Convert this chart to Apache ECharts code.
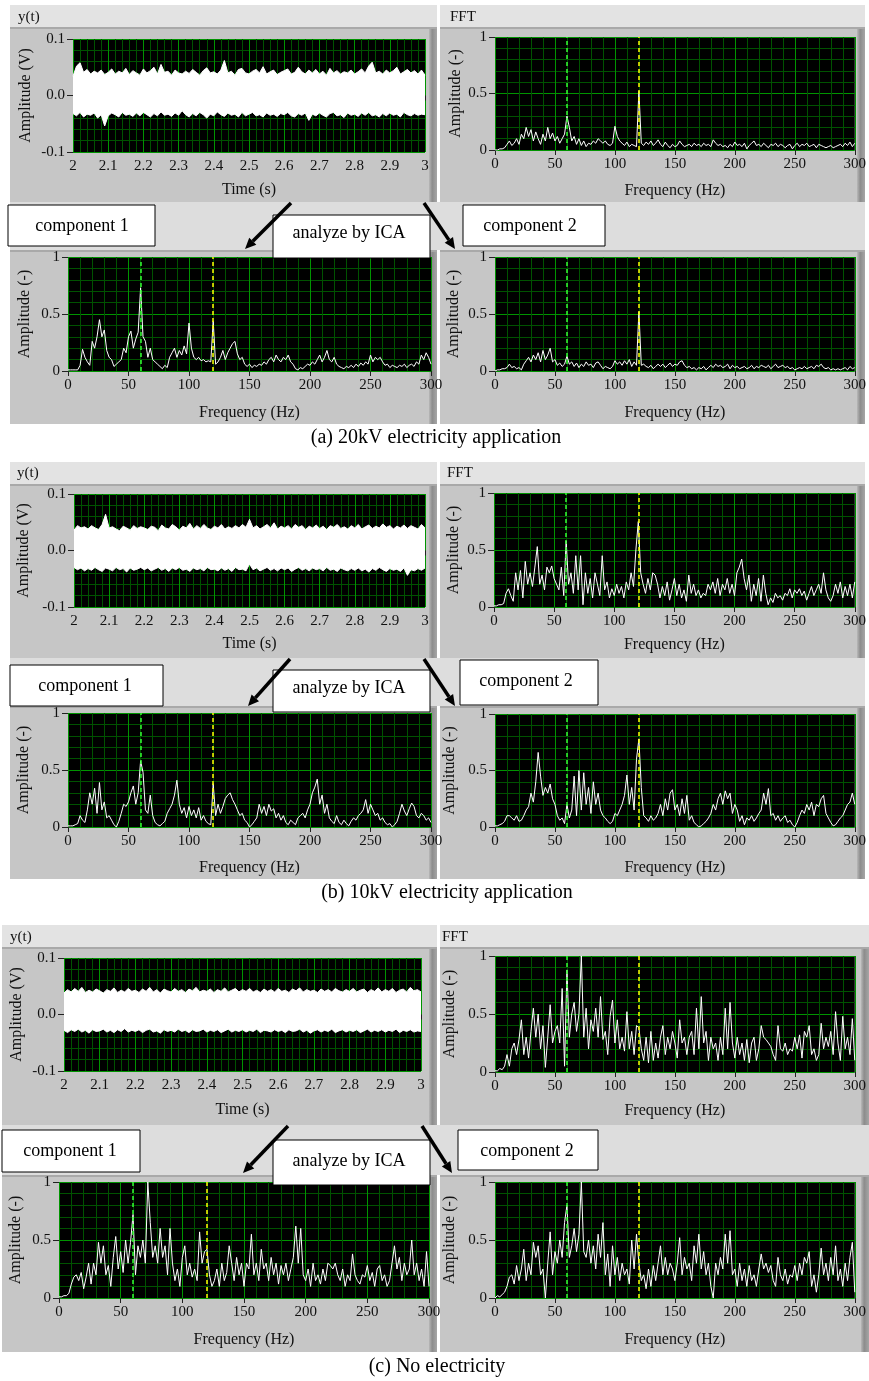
<!DOCTYPE html>
<html><head><meta charset="utf-8"><title>ICA FFT</title>
<script src="https://cdn.jsdelivr.net/npm/echarts@6.0.0/dist/echarts.min.js"></script>
<style>html,body{margin:0;padding:0;background:#fff;}#chart{width:869px;height:1381px;}</style>
</head><body><div id="chart"></div>
<script>
// ================= DATA =================
const FREQ_STEP_HZ = 2;           // spectra sampled every 2 Hz, 0..300 Hz
const TIME_START = 2, TIME_END = 3;
const CURSOR_GREEN_HZ = 60, CURSOR_YELLOW_HZ = 120;
const TITLE_TIME = 'y(t)', TITLE_FFT = 'FFT';
const CAPTIONS = ['(a) 20kV electricity application', '(b) 10kV electricity application', '(c) No electricity'];
const BOX_LABELS = ['component 1', 'analyze by ICA', 'component 2'];

// time signal envelopes (upper / lower edge of the white noise band), 2.00..3.00 s
const UP_A = [0.034,0.052,0.058,0.041,0.046,0.038,0.043,0.040,0.045,0.037,
0.041,0.047,0.038,0.043,0.040,0.048,0.037,0.044,0.040,0.036,
0.047,0.040,0.044,0.050,0.038,0.055,0.041,0.043,0.036,0.045,
0.040,0.038,0.043,0.039,0.046,0.041,0.036,0.044,0.049,0.040,
0.042,0.038,0.045,0.062,0.040,0.043,0.036,0.046,0.048,0.040,
0.038,0.043,0.046,0.040,0.051,0.038,0.042,0.045,0.037,0.041,
0.044,0.047,0.038,0.041,0.050,0.042,0.038,0.045,0.040,0.046,
0.038,0.043,0.036,0.048,0.040,0.044,0.038,0.042,0.040,0.045,
0.038,0.042,0.047,0.040,0.052,0.059,0.040,0.043,0.038,0.045,
0.040,0.044,0.050,0.038,0.042,0.046,0.040,0.044,0.038,0.045,
0.036];
const LO_A = [-0.032,-0.036,-0.030,-0.038,-0.033,-0.035,-0.031,-0.040,-0.034,-0.054,
-0.036,-0.031,-0.034,-0.038,-0.030,-0.035,-0.033,-0.037,-0.031,-0.036,
-0.030,-0.034,-0.038,-0.032,-0.036,-0.029,-0.035,-0.033,-0.037,-0.031,
-0.035,-0.027,-0.034,-0.038,-0.032,-0.036,-0.030,-0.034,-0.040,-0.033,
-0.036,-0.029,-0.034,-0.037,-0.031,-0.035,-0.033,-0.038,-0.030,-0.036,
-0.033,-0.030,-0.036,-0.034,-0.038,-0.031,-0.035,-0.033,-0.037,-0.032,
-0.034,-0.030,-0.036,-0.038,-0.032,-0.035,-0.031,-0.044,-0.033,-0.036,
-0.031,-0.035,-0.038,-0.032,-0.030,-0.036,-0.034,-0.039,-0.031,-0.035,
-0.033,-0.037,-0.031,-0.035,-0.030,-0.036,-0.034,-0.038,-0.032,-0.036,
-0.031,-0.035,-0.033,-0.038,-0.030,-0.034,-0.036,-0.032,-0.035,-0.033,
-0.034];
const UP_B = [0.036,0.044,0.040,0.042,0.038,0.044,0.040,0.037,0.046,0.064,
0.040,0.042,0.038,0.035,0.043,0.040,0.036,0.044,0.039,0.042,
0.040,0.037,0.043,0.041,0.035,0.045,0.040,0.038,0.046,0.042,
0.036,0.043,0.040,0.048,0.038,0.044,0.039,0.046,0.040,0.037,
0.043,0.040,0.046,0.038,0.042,0.039,0.044,0.040,0.046,0.041,
0.055,0.040,0.044,0.038,0.042,0.046,0.040,0.049,0.038,0.043,
0.040,0.044,0.038,0.046,0.041,0.044,0.037,0.043,0.040,0.045,
0.039,0.043,0.037,0.044,0.041,0.046,0.039,0.042,0.038,0.044,
0.040,0.046,0.038,0.042,0.045,0.039,0.043,0.040,0.047,0.041,
0.044,0.038,0.043,0.040,0.045,0.039,0.044,0.041,0.038,0.046,
0.040];
const LO_B = [-0.030,-0.034,-0.031,-0.036,-0.032,-0.035,-0.030,-0.034,-0.037,-0.031,
-0.033,-0.036,-0.030,-0.034,-0.032,-0.038,-0.031,-0.035,-0.033,-0.030,
-0.034,-0.031,-0.036,-0.033,-0.030,-0.035,-0.032,-0.037,-0.031,-0.034,
-0.030,-0.035,-0.033,-0.037,-0.031,-0.034,-0.032,-0.036,-0.030,-0.034,
-0.033,-0.036,-0.031,-0.035,-0.032,-0.037,-0.030,-0.034,-0.033,-0.036,
-0.024,-0.034,-0.031,-0.036,-0.033,-0.030,-0.035,-0.032,-0.036,-0.031,
-0.034,-0.031,-0.037,-0.033,-0.030,-0.035,-0.032,-0.036,-0.031,-0.034,
-0.032,-0.036,-0.030,-0.035,-0.033,-0.037,-0.031,-0.034,-0.036,-0.032,
-0.035,-0.031,-0.036,-0.033,-0.038,-0.032,-0.035,-0.030,-0.034,-0.037,
-0.032,-0.035,-0.033,-0.037,-0.031,-0.044,-0.034,-0.036,-0.032,-0.035,
-0.031];
const UP_C = [0.038,0.044,0.040,0.046,0.041,0.048,0.039,0.043,0.040,0.045,
0.042,0.038,0.044,0.041,0.047,0.039,0.043,0.040,0.046,0.041,
0.043,0.039,0.045,0.041,0.048,0.040,0.044,0.038,0.045,0.042,
0.040,0.046,0.041,0.044,0.039,0.045,0.042,0.048,0.040,0.043,
0.041,0.045,0.039,0.044,0.041,0.047,0.040,0.043,0.046,0.040,
0.044,0.041,0.046,0.040,0.043,0.039,0.045,0.041,0.044,0.040,
0.046,0.041,0.043,0.039,0.045,0.042,0.047,0.040,0.044,0.041,
0.043,0.039,0.045,0.041,0.044,0.040,0.046,0.042,0.040,0.044,
0.041,0.046,0.040,0.043,0.045,0.039,0.044,0.041,0.047,0.040,
0.044,0.041,0.046,0.039,0.043,0.045,0.040,0.048,0.042,0.044,
0.040];
const LO_C = [-0.028,-0.032,-0.027,-0.030,-0.026,-0.031,-0.028,-0.033,-0.027,-0.030,
-0.029,-0.026,-0.031,-0.028,-0.032,-0.027,-0.030,-0.025,-0.031,-0.028,
-0.030,-0.027,-0.032,-0.028,-0.026,-0.031,-0.029,-0.033,-0.027,-0.030,
-0.028,-0.031,-0.026,-0.030,-0.028,-0.032,-0.027,-0.030,-0.029,-0.026,
-0.031,-0.028,-0.030,-0.027,-0.032,-0.029,-0.026,-0.031,-0.028,-0.030,
-0.027,-0.031,-0.028,-0.030,-0.026,-0.032,-0.028,-0.029,-0.031,-0.027,
-0.030,-0.028,-0.032,-0.027,-0.030,-0.029,-0.026,-0.031,-0.028,-0.033,
-0.029,-0.027,-0.031,-0.028,-0.030,-0.026,-0.032,-0.029,-0.027,-0.031,
-0.028,-0.030,-0.027,-0.032,-0.029,-0.026,-0.031,-0.028,-0.030,-0.027,
-0.031,-0.028,-0.030,-0.026,-0.032,-0.028,-0.030,-0.027,-0.031,-0.029,
-0.030];

// FFT amplitude spectra, 0..300 Hz every 2 Hz (151 values each)
const FFT_A = [0.00,0.00,0.01,0.01,0.02,0.05,0.08,0.04,0.06,0.10,
0.05,0.14,0.10,0.20,0.12,0.18,0.08,0.16,0.10,0.05,
0.14,0.08,0.20,0.10,0.15,0.08,0.12,0.06,0.10,0.14,
0.30,0.20,0.08,0.12,0.05,0.10,0.04,0.08,0.03,0.06,
0.05,0.08,0.06,0.10,0.08,0.06,0.08,0.05,0.04,0.06,
0.21,0.12,0.08,0.06,0.04,0.07,0.03,0.05,0.04,0.03,
0.52,0.06,0.04,0.07,0.05,0.08,0.04,0.06,0.09,0.05,
0.03,0.07,0.04,0.02,0.05,0.03,0.04,0.08,0.05,0.03,
0.04,0.05,0.03,0.06,0.04,0.05,0.03,0.06,0.04,0.05,
0.03,0.09,0.06,0.04,0.05,0.03,0.04,0.02,0.05,0.03,
0.07,0.04,0.05,0.03,0.06,0.01,0.04,0.06,0.08,0.04,
0.05,0.03,0.06,0.04,0.02,0.05,0.04,0.06,0.03,0.05,
0.04,0.02,0.04,0.05,0.01,0.04,0.06,0.03,0.05,0.04,
0.06,0.03,0.04,0.05,0.02,0.05,0.04,0.03,0.02,0.03,
0.04,0.02,0.03,0.04,0.05,0.03,0.06,0.04,0.07,0.03,
0.06];
const FFT_A1 = [0.01,0.01,0.01,0.01,0.01,0.05,0.19,0.12,0.08,0.05,
0.26,0.20,0.30,0.45,0.30,0.36,0.18,0.12,0.10,0.04,
0.06,0.08,0.10,0.20,0.16,0.30,0.35,0.20,0.28,0.34,
0.73,0.30,0.26,0.12,0.20,0.10,0.08,0.06,0.04,0.02,
0.05,0.03,0.12,0.16,0.20,0.12,0.18,0.14,0.22,0.15,
0.42,0.20,0.12,0.10,0.12,0.09,0.10,0.08,0.09,0.08,
0.44,0.06,0.08,0.12,0.18,0.10,0.16,0.20,0.24,0.26,
0.15,0.10,0.12,0.06,0.04,0.06,0.03,0.05,0.04,0.06,
0.05,0.08,0.06,0.10,0.12,0.08,0.14,0.10,0.08,0.12,
0.10,0.14,0.08,0.06,0.02,0.01,0.03,0.02,0.04,0.06,
0.05,0.08,0.06,0.10,0.14,0.08,0.12,0.18,0.10,0.08,
0.12,0.06,0.04,0.03,0.02,0.04,0.03,0.05,0.03,0.06,
0.04,0.07,0.05,0.08,0.06,0.14,0.08,0.12,0.10,0.12,
0.08,0.05,0.06,0.03,0.05,0.04,0.03,0.05,0.04,0.06,
0.03,0.05,0.06,0.04,0.08,0.06,0.14,0.10,0.16,0.12,
0.06];
const FFT_A2 = [0.00,0.01,0.01,0.02,0.02,0.03,0.06,0.03,0.04,0.02,
0.03,0.01,0.06,0.09,0.12,0.08,0.14,0.10,0.16,0.08,
0.18,0.10,0.14,0.20,0.08,0.10,0.05,0.07,0.04,0.06,
0.13,0.06,0.08,0.04,0.07,0.03,0.06,0.04,0.08,0.05,
0.06,0.03,0.07,0.08,0.05,0.02,0.04,0.03,0.02,0.04,
0.09,0.06,0.08,0.05,0.09,0.06,0.10,0.04,0.08,0.05,
0.52,0.05,0.06,0.04,0.03,0.05,0.02,0.04,0.06,0.04,
0.06,0.03,0.05,0.07,0.04,0.06,0.05,0.08,0.09,0.05,
0.03,0.04,0.02,0.03,0.01,0.03,0.02,0.04,0.01,0.03,
0.05,0.03,0.06,0.04,0.05,0.03,0.04,0.06,0.02,0.05,
0.03,0.04,0.02,0.03,0.04,0.02,0.03,0.05,0.02,0.04,
0.03,0.05,0.04,0.03,0.05,0.02,0.04,0.06,0.03,0.04,
0.05,0.03,0.04,0.02,0.03,0.01,0.02,0.03,0.02,0.04,
0.02,0.03,0.04,0.02,0.05,0.04,0.06,0.03,0.02,0.03,
0.01,0.02,0.01,0.02,0.01,0.02,0.03,0.01,0.04,0.02,
0.03];
const FFT_B = [0.01,0.01,0.02,0.02,0.03,0.12,0.16,0.10,0.05,0.30,
0.15,0.32,0.08,0.40,0.20,0.30,0.18,0.35,0.53,0.20,
0.28,0.15,0.35,0.30,0.36,0.25,0.20,0.15,0.35,0.10,
0.58,0.20,0.30,0.12,0.45,0.15,0.45,0.02,0.30,0.12,
0.25,0.08,0.30,0.20,0.10,0.45,0.15,0.22,0.08,0.16,
0.10,0.20,0.12,0.18,0.08,0.22,0.15,0.30,0.18,0.50,
0.75,0.30,0.20,0.12,0.25,0.15,0.30,0.28,0.20,0.08,
0.18,0.10,0.22,0.06,0.15,0.25,0.10,0.20,0.08,0.15,
0.05,0.28,0.12,0.20,0.10,0.15,0.08,0.12,0.10,0.20,
0.15,0.22,0.12,0.25,0.10,0.20,0.15,0.25,0.12,0.20,
0.10,0.30,0.35,0.42,0.25,0.15,0.28,0.05,0.20,0.10,
0.25,0.05,0.28,0.12,0.02,0.08,0.04,0.12,0.08,0.10,
0.06,0.12,0.10,0.16,0.08,0.15,0.12,0.16,0.10,0.14,
0.06,0.12,0.18,0.10,0.15,0.20,0.12,0.30,0.15,0.08,
0.05,0.10,0.20,0.12,0.22,0.08,0.18,0.10,0.20,0.08,
0.22];
const FFT_B1 = [0.01,0.01,0.01,0.02,0.03,0.10,0.06,0.04,0.15,0.30,
0.20,0.34,0.12,0.39,0.15,0.22,0.08,0.10,0.06,0.02,
0.00,0.05,0.12,0.20,0.18,0.22,0.30,0.36,0.20,0.30,
0.58,0.48,0.15,0.12,0.28,0.10,0.04,0.02,0.01,0.03,
0.05,0.12,0.16,0.20,0.28,0.41,0.20,0.12,0.17,0.08,
0.18,0.10,0.15,0.08,0.17,0.06,0.10,0.05,0.03,0.02,
0.38,0.10,0.20,0.12,0.18,0.25,0.28,0.30,0.24,0.20,
0.15,0.10,0.12,0.06,0.04,0.00,0.02,0.05,0.08,0.20,
0.12,0.18,0.10,0.20,0.14,0.16,0.08,0.12,0.06,0.10,
0.04,0.02,0.06,0.04,0.02,0.08,0.10,0.12,0.08,0.15,
0.20,0.30,0.35,0.42,0.20,0.28,0.12,0.20,0.08,0.05,
0.03,0.10,0.04,0.02,0.06,0.03,0.01,0.05,0.08,0.06,
0.10,0.12,0.15,0.24,0.12,0.20,0.15,0.10,0.12,0.06,
0.08,0.04,0.02,0.03,0.00,0.02,0.05,0.12,0.20,0.14,
0.10,0.16,0.21,0.18,0.10,0.08,0.12,0.10,0.06,0.08,
0.04];
const FFT_B2 = [0.01,0.01,0.02,0.03,0.05,0.10,0.10,0.08,0.06,0.10,
0.05,0.06,0.10,0.15,0.18,0.30,0.22,0.40,0.66,0.45,
0.28,0.35,0.30,0.38,0.25,0.20,0.10,0.06,0.08,0.03,
0.20,0.08,0.15,0.45,0.10,0.50,0.15,0.48,0.20,0.35,
0.12,0.40,0.20,0.30,0.15,0.10,0.08,0.05,0.03,0.05,
0.12,0.10,0.15,0.20,0.28,0.46,0.20,0.35,0.15,0.60,
0.78,0.35,0.10,0.08,0.05,0.10,0.06,0.08,0.12,0.20,
0.10,0.25,0.15,0.30,0.33,0.15,0.20,0.10,0.25,0.12,
0.28,0.06,0.10,0.04,0.02,0.00,0.01,0.03,0.05,0.08,
0.12,0.20,0.15,0.25,0.30,0.20,0.32,0.25,0.30,0.12,
0.20,0.15,0.05,0.10,0.02,0.08,0.06,0.10,0.05,0.08,
0.12,0.15,0.30,0.20,0.34,0.10,0.12,0.06,0.10,0.05,
0.08,0.10,0.04,0.06,0.02,0.00,0.04,0.10,0.15,0.12,
0.20,0.15,0.22,0.10,0.20,0.18,0.25,0.28,0.12,0.08,
0.04,0.01,0.02,0.05,0.08,0.10,0.15,0.20,0.22,0.30,
0.20];
const FFT_C = [0.01,0.01,0.03,0.02,0.05,0.15,0.05,0.20,0.25,0.15,
0.28,0.45,0.15,0.30,0.12,0.35,0.55,0.30,0.50,0.20,
0.40,0.04,0.30,0.58,0.25,0.35,0.40,0.25,0.72,0.05,
0.88,0.30,0.50,0.60,0.35,0.50,1.00,0.30,0.55,0.20,
0.45,0.35,0.55,0.30,0.65,0.28,0.35,0.15,0.48,0.62,
0.25,0.45,0.20,0.30,0.18,0.52,0.20,0.35,0.15,0.40,
0.38,0.20,0.10,0.30,0.08,0.35,0.10,0.25,0.12,0.30,
0.40,0.15,0.30,0.20,0.35,0.25,0.12,0.45,0.25,0.30,
0.15,0.30,0.35,0.15,0.55,0.20,0.65,0.25,0.35,0.10,
0.30,0.20,0.25,0.10,0.30,0.15,0.55,0.20,0.60,0.25,
0.12,0.30,0.15,0.25,0.10,0.28,0.08,0.25,0.30,0.10,
0.20,0.40,0.30,0.28,0.25,0.22,0.15,0.10,0.40,0.20,
0.18,0.25,0.15,0.20,0.18,0.30,0.20,0.32,0.12,0.35,
0.30,0.40,0.15,0.20,0.10,0.15,0.42,0.20,0.30,0.22,
0.35,0.15,0.52,0.25,0.10,0.48,0.20,0.30,0.15,0.46,
0.10];
const FFT_C1 = [0.01,0.01,0.02,0.02,0.04,0.12,0.18,0.20,0.15,0.22,
0.08,0.18,0.30,0.12,0.30,0.20,0.48,0.30,0.45,0.20,
0.28,0.10,0.35,0.53,0.25,0.40,0.22,0.50,0.30,0.48,
0.72,0.20,0.45,0.35,0.50,0.30,1.00,0.65,0.35,0.45,
0.30,0.60,0.35,0.45,0.20,0.60,0.30,0.15,0.25,0.10,
0.35,0.45,0.20,0.30,0.18,0.25,0.15,0.57,0.30,0.40,
0.42,0.20,0.10,0.15,0.25,0.10,0.30,0.15,0.22,0.45,
0.30,0.15,0.35,0.20,0.30,0.10,0.30,0.25,0.55,0.20,
0.30,0.15,0.42,0.25,0.30,0.15,0.35,0.20,0.30,0.12,
0.28,0.20,0.30,0.15,0.25,0.35,0.62,0.30,0.60,0.20,
0.15,0.25,0.10,0.30,0.15,0.20,0.12,0.25,0.15,0.30,
0.28,0.25,0.30,0.20,0.15,0.25,0.10,0.20,0.15,0.38,
0.20,0.15,0.12,0.20,0.18,0.28,0.15,0.22,0.10,0.25,
0.28,0.15,0.20,0.10,0.15,0.30,0.45,0.25,0.35,0.15,
0.30,0.20,0.25,0.50,0.20,0.30,0.15,0.25,0.10,0.40,
0.10];
const FFT_C2 = [0.00,0.02,0.01,0.03,0.05,0.10,0.18,0.20,0.12,0.28,
0.15,0.25,0.42,0.15,0.30,0.20,0.48,0.35,0.45,0.20,
0.25,0.00,0.30,0.57,0.20,0.40,0.30,0.50,0.35,0.65,
0.80,0.35,0.45,0.60,0.40,0.55,1.00,0.40,0.35,0.50,
0.30,0.45,0.25,0.55,0.35,0.65,0.20,0.38,0.10,0.45,
0.20,0.35,0.15,0.30,0.20,0.25,0.12,0.50,0.25,0.55,
0.30,0.15,0.20,0.08,0.25,0.10,0.28,0.15,0.30,0.45,
0.20,0.35,0.20,0.30,0.25,0.15,0.30,0.52,0.20,0.35,
0.25,0.30,0.15,0.45,0.30,0.55,0.25,0.40,0.20,0.30,
0.10,0.00,0.30,0.20,0.35,0.25,0.55,0.30,0.58,0.20,
0.25,0.10,0.30,0.15,0.25,0.10,0.28,0.15,0.20,0.10,
0.25,0.38,0.25,0.30,0.22,0.28,0.15,0.10,0.35,0.20,
0.15,0.25,0.12,0.20,0.18,0.28,0.15,0.30,0.20,0.35,
0.30,0.40,0.10,0.20,0.05,0.20,0.43,0.20,0.30,0.15,
0.35,0.20,0.45,0.15,0.25,0.10,0.30,0.15,0.35,0.48,
0.05];

// ================= LAYOUT =================
const FONT = '"Liberation Serif","Times New Roman",serif';
// g = [left, top, width, height] of each black plot area
const PANELS = [
 {kind:'time', up:UP_A, lo:LO_A, g:[73,39,352,113],  xGap:30, yGap:39},
 {kind:'fft',  v:FFT_A,          g:[495,37,362,113], xGap:33, yGap:31},
 {kind:'fft',  v:FFT_A1,         g:[68,257,363,114], xGap:34, yGap:35},
 {kind:'fft',  v:FFT_A2,         g:[495,257,363,114],xGap:34, yGap:33},
 {kind:'time', up:UP_B, lo:LO_B, g:[74,494,351,113], xGap:29, yGap:42},
 {kind:'fft',  v:FFT_B,          g:[494,493,364,114],xGap:30, yGap:32},
 {kind:'fft',  v:FFT_B1,         g:[68,713,363,114], xGap:33, yGap:36},
 {kind:'fft',  v:FFT_B2,         g:[495,714,363,113],xGap:33, yGap:37},
 {kind:'time', up:UP_C, lo:LO_C, g:[64,958,357,113], xGap:31, yGap:39},
 {kind:'fft',  v:FFT_C,          g:[495,956,370,116],xGap:31, yGap:37},
 {kind:'fft',  v:FFT_C1,         g:[59,1182,370,116],xGap:34, yGap:35},
 {kind:'fft',  v:FFT_C2,         g:[495,1182,370,116],xGap:34, yGap:37}
];

const grids=[], xAxes=[], yAxes=[], series=[];
const axisCommon = {
  nameLocation:'middle',
  nameTextStyle:{fontFamily:FONT,fontSize:16,color:'#111'},
  axisLine:{show:false},
  axisTick:{show:true,length:5,lineStyle:{color:'#222'}},
  splitLine:{show:true,lineStyle:{color:'#009400',width:1}},
  minorTick:{show:false,splitNumber:5},
  minorSplitLine:{show:true,lineStyle:{color:'#005200',width:1}}
};
PANELS.forEach((p,i)=>{
  const [l,t,w,h]=p.g;
  const isT = p.kind==='time';
  grids.push({left:l,top:t,width:w,height:h,show:true,backgroundColor:'#000',borderWidth:0,containLabel:false});
  xAxes.push(Object.assign({}, axisCommon, {
    gridIndex:i,type:'value',
    min:isT?TIME_START:0,max:isT?TIME_END:300,interval:isT?0.1:50,
    name:isT?'Time (s)':'Frequency (Hz)',nameGap:p.xGap,
    axisLabel:{fontFamily:FONT,fontSize:15,color:'#111',margin:7,showMinLabel:true,showMaxLabel:true,hideOverlap:false,
      formatter:v=>String(Math.round(v*10)/10)}
  }));
  yAxes.push(Object.assign({}, axisCommon, {
    gridIndex:i,type:'value',
    min:isT?-0.1:0,max:isT?0.1:1,interval:isT?0.1:0.5,
    name:isT?'Amplitude (V)':'Amplitude (-)',nameGap:p.yGap,
    axisTick:{show:true,length:6,lineStyle:{color:'#222'}},
    axisLabel:{fontFamily:FONT,fontSize:15,color:'#111',margin:8,showMinLabel:true,showMaxLabel:true,hideOverlap:false,
      formatter:v=>isT?(Math.round(v*10)/10).toFixed(1):String(Math.round(v*10)/10)}
  }));
  if(isT){
    const tAt = (k,n) => TIME_START+(TIME_END-TIME_START)*k/(n-1);
    // upper edge filled down past zero, lower edge filled up past zero: the two areas overlap into one white band
    series.push({
      type:'line',xAxisIndex:i,yAxisIndex:i,
      data:p.up.map((v,k)=>[tAt(k,p.up.length),v]),symbol:'none',showSymbol:false,
      lineStyle:{color:'#fff',width:1},areaStyle:{color:'#fff',opacity:1,origin:-0.01},z:3,silent:true
    });
    series.push({
      type:'line',xAxisIndex:i,yAxisIndex:i,
      data:p.lo.map((v,k)=>[tAt(k,p.lo.length),v]),symbol:'none',showSymbol:false,
      lineStyle:{color:'#fff',width:1},areaStyle:{color:'#fff',opacity:1,origin:0.01},z:3,silent:true
    });
  } else {
    series.push({
      type:'line',xAxisIndex:i,yAxisIndex:i,data:p.v.map((v,k)=>[k*FREQ_STEP_HZ,v]),
      symbol:'none',showSymbol:false,lineStyle:{color:'#fff',width:1},z:4,silent:true,
      markLine:{symbol:['none','none'],silent:true,label:{show:false},animation:false,
        data:[
          {xAxis:CURSOR_GREEN_HZ,lineStyle:{color:'#33ff33',type:[4,3],width:1.5}},
          {xAxis:CURSOR_YELLOW_HZ,lineStyle:{color:'#ffff00',type:[4,3],width:1.5}}
        ]}
    });
  }
});

// ---------- decorations (panel frames, boxes, arrows, captions) ----------
const HEAD='#e3e3e3', BODY='#c6c6c6', BAND='#dddddd';
const FRAMES = [
 // section a
 {x:10,y:5,w:427,h:22,c:HEAD},{x:10,y:27,w:427,h:175,c:BODY,bar:1},
 {x:440,y:5,w:425,h:22,c:HEAD},{x:440,y:27,w:425,h:175,c:BODY,bar:1},
 {x:10,y:202,w:855,h:48,c:BAND},
 {x:10,y:250,w:427,h:174,c:BODY,bar:1},{x:440,y:250,w:425,h:174,c:BODY,bar:1},
 // section b
 {x:10,y:462,w:427,h:22,c:HEAD},{x:10,y:484,w:427,h:174,c:BODY,bar:1},
 {x:440,y:462,w:425,h:22,c:HEAD},{x:440,y:484,w:425,h:174,c:BODY,bar:1},
 {x:10,y:658,w:855,h:48,c:BAND},
 {x:10,y:706,w:427,h:173,c:BODY,bar:1},{x:440,y:706,w:425,h:173,c:BODY,bar:1},
 // section c
 {x:2,y:925,w:435,h:22,c:HEAD},{x:2,y:947,w:435,h:178,c:BODY,bar:1},
 {x:440,y:925,w:429,h:22,c:HEAD},{x:440,y:947,w:429,h:178,c:BODY,bar:1},
 {x:2,y:1125,w:867,h:50,c:BAND},
 {x:2,y:1175,w:435,h:177,c:BODY,bar:1},{x:440,y:1175,w:429,h:177,c:BODY,bar:1}
];
const TITLES = [
 {t:TITLE_TIME,x:18,y:17},{t:TITLE_FFT,x:450,y:17},
 {t:TITLE_TIME,x:17,y:473},{t:TITLE_FFT,x:447,y:473},
 {t:TITLE_TIME,x:10,y:937},{t:TITLE_FFT,x:442,y:937}
];
const BOXES = [
 {x:8,y:205,w:147,h:41,t:BOX_LABELS[0],tx:82,ty:226},
 {x:273,y:215,w:157,h:43,t:BOX_LABELS[1],tx:349,ty:233},
 {x:463,y:205,w:142,h:41,t:BOX_LABELS[2],tx:530,ty:226},
 {x:10,y:665,w:153,h:41,t:BOX_LABELS[0],tx:85,ty:686},
 {x:273,y:670,w:157,h:42,t:BOX_LABELS[1],tx:349,ty:688},
 {x:460,y:660,w:138,h:45,t:BOX_LABELS[2],tx:526,ty:681},
 {x:2,y:1130,w:138,h:42,t:BOX_LABELS[0],tx:70,ty:1151},
 {x:273,y:1140,w:157,h:45,t:BOX_LABELS[1],tx:349,ty:1161},
 {x:458,y:1130,w:140,h:40,t:BOX_LABELS[2],tx:527,ty:1151}
];
const ARROWS = [
 [291,203,245,249],[424,203,455,249],
 [290,659,248,706],[424,659,455,706],
 [288,1126,243,1173],[422,1126,452,1173]
];
const CAPTION_POS = [[436,438],[447,893],[437,1367]];

const graphics = [];
FRAMES.forEach(f=>{
  graphics.push({type:'rect',z:-10,silent:true,shape:{x:f.x,y:f.y,width:f.w,height:f.h},style:{fill:f.c}});
  if(f.bar){
    graphics.push({type:'rect',z:-9,silent:true,shape:{x:f.x+f.w-8,y:f.y,width:8,height:f.h},
      style:{fill:new echarts.graphic.LinearGradient(0,0,1,0,[{offset:0,color:'#b8b8b8'},{offset:0.4,color:'#8c8c8c'},{offset:1,color:'#a6a6a6'}])}});
    graphics.push({type:'rect',z:-9,silent:true,shape:{x:f.x,y:f.y,width:f.w,height:2},style:{fill:'#a9a9a9'}});
  }
});
TITLES.forEach(s=>graphics.push({type:'text',z:5,silent:true,x:s.x,y:s.y,
  style:{text:s.t,font:'15px '+FONT,fill:'#111',textAlign:'left',textVerticalAlign:'middle'}}));
BOXES.forEach(b=>{
  graphics.push({type:'rect',z:50,silent:true,shape:{x:b.x,y:b.y,width:b.w,height:b.h},style:{fill:'#fff',stroke:'#000',lineWidth:1}});
  graphics.push({type:'text',z:51,silent:true,x:b.tx,y:b.ty,style:{text:b.t,font:'18px '+FONT,fill:'#000',textAlign:'center',textVerticalAlign:'middle'}});
});
ARROWS.forEach(([x1,y1,x2,y2])=>{
  const dx=x2-x1, dy=y2-y1, L=Math.hypot(dx,dy), ux=dx/L, uy=dy/L;
  const hl=11, hw=5;
  const bx=x2-ux*hl, by=y2-uy*hl;
  graphics.push({type:'line',z:52,silent:true,shape:{x1:x1,y1:y1,x2:bx,y2:by},style:{stroke:'#000',lineWidth:3.5}});
  graphics.push({type:'polygon',z:52,silent:true,shape:{points:[[x2,y2],[bx-uy*hw,by+ux*hw],[bx+uy*hw,by-ux*hw]]},style:{fill:'#000'}});
});
CAPTIONS.forEach((c,k)=>graphics.push({type:'text',z:5,silent:true,x:CAPTION_POS[k][0],y:CAPTION_POS[k][1],
  style:{text:c,font:'20px '+FONT,fill:'#000',textAlign:'center',textVerticalAlign:'middle'}}));

const chart = echarts.init(document.getElementById('chart'), null, {renderer:'canvas'});
chart.setOption({
  animation:false,
  backgroundColor:'#fff',
  grid:grids, xAxis:xAxes, yAxis:yAxes, series:series,
  graphic:{elements:graphics}
});
</script></body></html>
